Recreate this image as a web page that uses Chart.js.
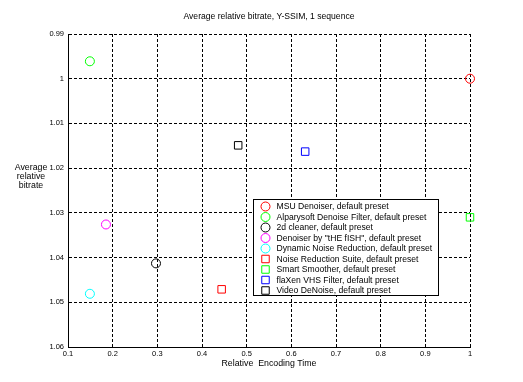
<!DOCTYPE html>
<html><head><meta charset="utf-8">
<script src="https://cdn.jsdelivr.net/npm/chart.js@4/dist/chart.umd.min.js"></script>
<style>html,body{margin:0;padding:0;background:#fff;}canvas{display:block}</style>
</head><body>
<canvas id="c" width="523" height="382"></canvas>
<script>
const chartTitle = 'Average relative bitrate, Y-SSIM, 1 sequence';
const xAxisTitle = 'Relative  Encoding Time';
const yAxisTitleLines = ['Average', 'relative', 'bitrate'];
const seriesNames = [
  'MSU Denoiser, default preset',
  'Alparysoft Denoise Filter, default preset',
  '2d cleaner, default preset',
  'Denoiser by "tHE fISH", default preset',
  'Dynamic Noise Reduction, default preset',
  'Noise Reduction Suite, default preset',
  'Smart Smoother, default preset',
  'flaXen VHS Filter, default preset',
  'Video DeNoise, default preset'
];
const encodingTime = [1.0, 0.149, 0.297, 0.185, 0.149, 0.444, 1.0, 0.631, 0.481];
const relativeBitrate = [1.000, 0.9961, 1.0413, 1.0326, 1.0481, 1.0471, 1.031, 1.0163, 1.0149];
const xTickValues = [0.1, 0.2, 0.3, 0.4, 0.5, 0.6, 0.7, 0.8, 0.9, 1];
const xTickLabels = ['0.1', '0.2', '0.3', '0.4', '0.5', '0.6', '0.7', '0.8', '0.9', '1'];
const yTickValues = [0.99, 1, 1.01, 1.02, 1.03, 1.04, 1.05, 1.06];
const yTickLabels = ['0.99', '1', '1.01', '1.02', '1.03', '1.04', '1.05', '1.06'];

const seriesColors = ['#ff0000', '#00ff00', '#000000', '#ff00ff', '#00ffff', '#ff0000', '#00ff00', '#0000ff', '#000000'];
const seriesMarkers = ['circle', 'circle', 'circle', 'circle', 'circle', 'rect', 'rect', 'rect', 'rect'];

const FONT = '"Liberation Sans", Arial, Helvetica, sans-serif';
Chart.defaults.font.family = FONT;
Chart.defaults.color = '#000';

const datasets = seriesNames.map((name, i) => ({
  label: name,
  data: [{x: encodingTime[i], y: relativeBitrate[i]}],
  pointStyle: seriesMarkers[i],
  pointRadius: seriesMarkers[i] === 'circle' ? 4.5 : 5.3,
  pointHoverRadius: seriesMarkers[i] === 'circle' ? 4.5 : 5.3,
  pointBorderWidth: 1,
  pointHoverBorderWidth: 1,
  borderColor: seriesColors[i],
  backgroundColor: 'rgba(0,0,0,0)',
  showLine: false,
  clip: false
}));

const extras = {
  id: 'extras',
  afterDraw(chart) {
    const ctx = chart.ctx, a = chart.chartArea;
    ctx.save();
    ctx.fillStyle = '#000';
    ctx.font = '8.6px ' + FONT;
    ctx.textAlign = 'center';
    ctx.textBaseline = 'middle';
    ctx.fillText(chartTitle, (a.left + a.right) / 2, a.top - 17);
    ctx.font = '8.8px ' + FONT;
    const yMid = chart.scales.y.getPixelForValue(1.02);
    yAxisTitleLines.forEach((t, i) => ctx.fillText(t, 31, yMid - 1 + i * 9.3));
    // legend
    const lx = a.left + 185, ly = a.top + 165, lw = 185, lh = 96;
    ctx.fillStyle = '#fff';
    ctx.fillRect(lx, ly, lw, lh);
    ctx.strokeStyle = '#000';
    ctx.lineWidth = 1;
    ctx.strokeRect(lx + 0.5, ly + 0.5, lw, lh);
    ctx.textAlign = 'left';
    ctx.font = '8.6px ' + FONT;
    chart.data.datasets.forEach((ds, i) => {
      const cy = ly + 7.5 + i * 10.5;
      const cx = lx + 12.5;
      ctx.strokeStyle = ds.borderColor;
      ctx.beginPath();
      if (ds.pointStyle === 'circle') {
        ctx.arc(cx, cy, 4.5, 0, Math.PI * 2);
      } else {
        const s = ds.pointRadius * Math.SQRT1_2;
        ctx.rect(cx - s, cy - s, 2 * s, 2 * s);
      }
      ctx.stroke();
      ctx.fillStyle = '#000';
      ctx.fillText(ds.label, lx + 23.5, cy + 0.5);
    });
    ctx.restore();
  }
};

new Chart(document.getElementById('c'), {
  type: 'scatter',
  data: {datasets},
  options: {
    responsive: false,
    animation: false,
    events: [],
    layout: {padding: {top: 34, right: 53, left: 0, bottom: 0}, autoPadding: false},
    plugins: {legend: {display: false}, title: {display: false}, tooltip: {enabled: false}},
    scales: {
      x: {
        type: 'linear', min: 0.1, max: 1,
        afterFit: s => { s.height = 35; },
        afterBuildTicks: s => { s.ticks = xTickValues.map(v => ({value: v})); },
        ticks: {
          autoSkip: false, maxRotation: 0, padding: 2,
          font: {size: 7.5},
          callback: (v, i) => xTickLabels[i]
        },
        grid: {color: '#000', lineWidth: 1, drawTicks: false},
        border: {display: true, color: '#000', width: 1, dash: [3, 2]},
        title: {display: true, text: xAxisTitle, font: {size: 8.8}, padding: {top: 0, bottom: 13}}
      },
      y: {
        type: 'linear', min: 0.99, max: 1.06, reverse: true,
        afterFit: s => { s.width = 68; },
        afterBuildTicks: s => { s.ticks = yTickValues.map(v => ({value: v})); },
        ticks: {
          autoSkip: false, padding: 4,
          font: {size: 7.5},
          callback: (v, i) => yTickLabels[i]
        },
        grid: {color: '#000', lineWidth: 1, drawTicks: false},
        border: {display: true, color: '#000', width: 1, dash: [3, 2]}
      }
    }
  },
  plugins: [extras]
});
</script>
</body></html>
